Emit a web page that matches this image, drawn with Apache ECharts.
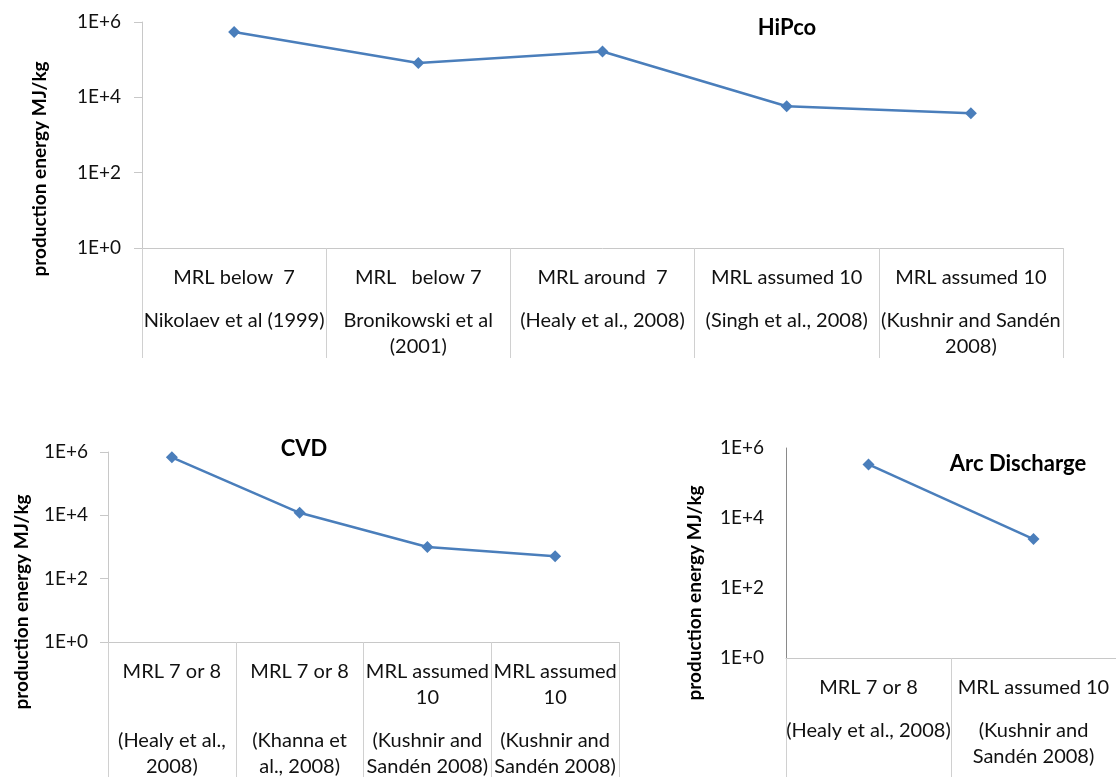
<!DOCTYPE html>
<html>
<head>
<meta charset="utf-8">
<script src="https://cdn.jsdelivr.net/npm/echarts@6/dist/echarts.min.js"></script>
<style>
html,body{margin:0;padding:0;background:#fff;}
#chart{width:1116px;height:777px;}
</style>
</head>
<body>
<div id="chart"></div>
<script>
// ---- data ----
const hipcoMRL = ['MRL below  7', 'MRL   below 7', 'MRL around  7', 'MRL assumed 10', 'MRL assumed 10'];
const hipcoRef = ['Nikolaev et al (1999)', 'Bronikowski et al\n(2001)', '(Healy et al., 2008)', '(Singh et al., 2008)', '(Kushnir and Sandén\n2008)'];
const hipcoValues = [5.4e5, 8.2e4, 1.65e5, 5.8e3, 3.8e3];

const cvdMRL = ['MRL 7 or 8\n ', 'MRL 7 or 8\n ', 'MRL assumed\n10', 'MRL assumed\n10'];
const cvdRef = ['(Healy et al.,\n2008)', '(Khanna et\nal., 2008)', '(Kushnir and\nSandén 2008)', '(Kushnir and\nSandén 2008)'];
const cvdValues = [6.8e5, 1.2e4, 1.0e3, 5.1e2];

const arcMRL = ['MRL 7 or 8', 'MRL assumed 10'];
const arcRef = ['(Healy et al., 2008)', '(Kushnir and\nSandén 2008)'];
const arcValues = [3.4e5, 2.5e3];

const yTickValues = [1, 1e2, 1e4, 1e6];
const titles = ['HiPco', 'CVD', 'Arc Discharge'];
const yName = 'production energy MJ/kg';

// ---- helpers ----
const FONT = 'Lato, "Open Sans", sans-serif';
const joinCats = (a, b) => a.map((m, i) => m + '\n\n' + b[i]);
const catFormatter = (v) => {
  const parts = v.split('\n\n');
  const top = parts[0].split('\n').map(l => '{a|' + l + '}');
  const bot = parts[1].split('\n').map(l => '{a|' + l + '}');
  return top.join('\n') + '\n{g| }\n' + bot.join('\n');
};
const yFormatter = (v) => '1E+' + Math.round(Math.log10(v));

function xAxis(gi, cats, tickLen) {
  return {
    type: 'category', gridIndex: gi, data: cats, boundaryGap: true,
    axisLine: {lineStyle: {color: '#c8c8c8', width: 1}},
    axisTick: {show: true, length: tickLen, alignWithLabel: false, interval: 0, lineStyle: {color: '#d0d0d0', width: 1}},
    axisLabel: {
      interval: 0, margin: 17, formatter: catFormatter, color: '#000',
      rich: {
        a: {fontSize: 20, lineHeight: 26, fontFamily: FONT, color: '#111'},
        g: {fontSize: 10, lineHeight: 17, fontFamily: FONT}
      }
    },
    splitLine: {show: false}
  };
}
function yAxis(gi, lineColor, showTick, margin) {
  return {
    type: 'log', logBase: 10, gridIndex: gi, min: 1, max: 1e6,
    axisLine: {show: true, lineStyle: {color: lineColor, width: 1}},
    axisTick: {show: showTick, length: 8, customValues: yTickValues, lineStyle: {color: '#c8c8c8'}},
    axisLabel: {customValues: yTickValues, formatter: yFormatter, margin: margin, fontSize: 19, fontFamily: FONT, color: '#111'},
    splitLine: {show: false},
    minorTick: {show: false}
  };
}
const lineSeries = (i, data) => ({
  type: 'line', xAxisIndex: i, yAxisIndex: i, data: data,
  symbol: 'diamond', symbolSize: 12,
  lineStyle: {color: '#4a7ebb', width: 2.5},
  itemStyle: {color: '#4a7ebb'}
});
const nameText = (x, y) => ({
  type: 'text', x: x, y: y, rotation: Math.PI / 2,
  style: {text: yName, font: 'bold 19px ' + FONT, fill: '#000', textAlign: 'center', textVerticalAlign: 'middle'}
});
const titleText = (t, x, y) => ({
  type: 'text', x: x, y: y,
  style: {text: t, font: 'bold 22px ' + FONT, fill: '#000', textAlign: 'center', textVerticalAlign: 'middle'}
});

const chart = echarts.init(document.getElementById('chart'));
chart.setOption({
  animation: false,
  backgroundColor: '#fff',
  grid: [
    {left: 142, top: 22, width: 921, height: 226},
    {left: 108, top: 452, width: 511, height: 190},
    {left: 786, top: 448, width: 338, height: 210}
  ],
  xAxis: [
    xAxis(0, joinCats(hipcoMRL, hipcoRef), 110),
    xAxis(1, joinCats(cvdMRL, cvdRef), 140),
    xAxis(2, joinCats(arcMRL, arcRef), 130)
  ],
  yAxis: [
    yAxis(0, '#c8c8c8', true, 21),
    yAxis(1, '#c8c8c8', true, 20),
    yAxis(2, '#8a8a8a', false, 22)
  ],
  series: [
    lineSeries(0, hipcoValues),
    lineSeries(1, cvdValues),
    lineSeries(2, arcValues)
  ],
  graphic: [
    nameText(40, 169),
    nameText(22, 602),
    nameText(695, 593),
    titleText(titles[0], 787, 28),
    titleText(titles[1], 304, 449),
    titleText(titles[2], 1018, 464)
  ]
});
</script>
</body>
</html>
